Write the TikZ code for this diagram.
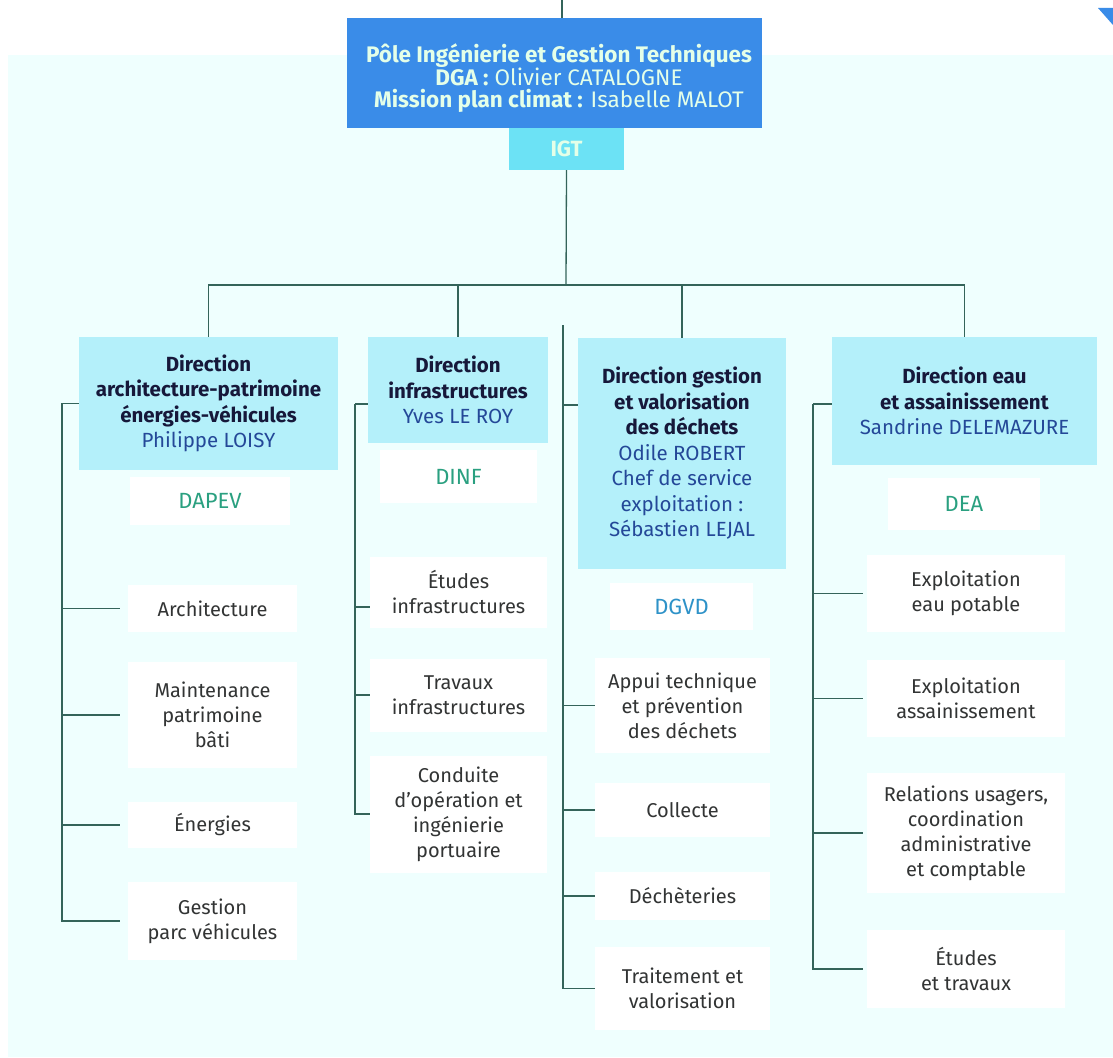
\documentclass[tikz,border=0pt]{standalone}
\usepackage{fontspec}
\setmainfont{Fira Sans}
\usetikzlibrary{positioning}
\definecolor{panel}{RGB}{239,255,254}
\definecolor{headblue}{RGB}{58,140,232}
\definecolor{headtext}{RGB}{228,255,232}
\definecolor{igtfill}{RGB}{108,226,245}
\definecolor{dirfill}{RGB}{180,240,250}
\definecolor{titlecol}{RGB}{22,24,58}
\definecolor{namecol}{RGB}{36,72,152}
\definecolor{codecol}{RGB}{42,160,128}
\definecolor{codeblue}{RGB}{46,146,200}
\definecolor{subtext}{RGB}{50,52,52}
\definecolor{linecol}{RGB}{52,100,90}
\tikzset{
  dirbox/.style={fill=dirfill, draw=none, align=center, inner sep=0pt, text=titlecol, font=\fontsize{20.5}{25.5}\selectfont},
  subbox/.style={fill=white, draw=none, align=center, inner sep=0pt, text=subtext, font=\fontsize{20}{25}\selectfont},
  codebox/.style={fill=white, draw=none, align=center, inner sep=0pt, text=codecol, font=\fontsize{22}{24}\selectfont},
  conn/.style={draw=linecol, line width=1.3pt},
}
\begin{document}
\begin{tikzpicture}[x=1pt,y=-1pt]
\fill[white] (0,0) rectangle (1113,1057);
\useasboundingbox (0,0) rectangle (1113,1057);
\fill[panel] (8,55) rectangle (1113,1057);
\fill[headblue] (1098,8) -- (1113,8) -- (1113,25) -- cycle;

% header
\node[fill=headblue, minimum width=415pt, minimum height=110pt, inner sep=0pt] (pole) at (554.5,73) {};
\node[align=center, text=headtext, font=\fontsize{22.5}{21.8}\selectfont] (poletxt) at (559,78)
  {\textbf{Pôle Ingénierie et Gestion Techniques}\\ \textbf{DGA :} Olivier CATALOGNE\\ \textbf{Mission plan climat :} Isabelle MALOT};
\node[fill=igtfill, minimum width=115pt, minimum height=42pt, inner sep=0pt, text=headtext, font=\fontsize{22}{22}\selectfont\bfseries] (igt) at (566.5,149) {IGT};
\coordinate (topin) at (562,0);

% directions
\node[dirbox, minimum width=259pt, minimum height=133pt] (dapev) at (208.5,403.5)
  {\textbf{Direction}\\ \textbf{architecture-patrimoine}\\ \textbf{énergies-véhicules}\\ \textcolor{namecol}{Philippe LOISY}};
\node[dirbox, minimum width=180pt, minimum height=106pt] (infra) at (458,390)
  {\textbf{Direction}\\ \textbf{infrastructures}\\ \textcolor{namecol}{Yves LE ROY}};
\node[dirbox, minimum width=208pt, minimum height=231pt] (gvd) at (682,453.5)
  {\textbf{Direction gestion}\\ \textbf{et valorisation}\\ \textbf{des déchets}\\ \textcolor{namecol}{Odile ROBERT}\\ \textcolor{namecol}{Chef de service}\\ \textcolor{namecol}{exploitation :}\\ \textcolor{namecol}{Sébastien LEJAL}};
\node[dirbox, minimum width=265pt, minimum height=128pt] (dea) at (964.5,401)
  {\textbf{Direction eau}\\ \textbf{et assainissement}\\ \textcolor{namecol}{Sandrine DELEMAZURE}};

% codes
\node[codebox, minimum width=160pt, minimum height=48pt] (cdapev) at (210,501) {DAPEV};
\node[codebox, minimum width=157pt, minimum height=53pt] (cdinf) at (458.5,476.5) {DINF};
\node[codebox, text=codeblue, minimum width=143pt, minimum height=47pt] (cdgvd) at (681.5,606.5) {DGVD};
\node[codebox, minimum width=152pt, minimum height=52pt] (cdea) at (964,504) {DEA};

% column 1
\node[subbox, minimum width=169pt, minimum height=47pt] (arch) at (212.5,608.5) {Architecture};
\node[subbox, minimum width=169pt, minimum height=106pt] (maint) at (212.5,715) {Maintenance\\ patrimoine\\ bâti};
\node[subbox, minimum width=169pt, minimum height=46pt] (energ) at (212.5,825) {Énergies};
\node[subbox, minimum width=169pt, minimum height=78pt] (gest) at (212.5,921) {Gestion\\ parc véhicules};

% column 2
\node[subbox, minimum width=177pt, minimum height=71pt] (etinf) at (458.5,592.5) {Études\\ infrastructures};
\node[subbox, minimum width=177pt, minimum height=73pt] (trinf) at (458.5,695) {Travaux\\ infrastructures};
\node[subbox, minimum width=177pt, minimum height=117pt] (cond) at (458.5,814) {Conduite\\ d'opération et\\ ingénierie\\ portuaire};

% column 3
\node[subbox, minimum width=175pt, minimum height=95pt] (appui) at (682.5,705.5) {Appui technique\\ et prévention\\ des déchets};
\node[subbox, minimum width=175pt, minimum height=54pt] (coll) at (682.5,810) {Collecte};
\node[subbox, minimum width=175pt, minimum height=48pt] (dech) at (682.5,896) {Déchèteries};
\node[subbox, minimum width=175pt, minimum height=83pt] (trait) at (682.5,988.5) {Traitement et\\ valorisation};

% column 4
\node[subbox, minimum width=198pt, minimum height=77pt] (eaupot) at (966,593.5) {Exploitation\\ eau potable};
\node[subbox, minimum width=198pt, minimum height=77pt] (assain) at (966,698.5) {Exploitation\\ assainissement};
\node[subbox, minimum width=198pt, minimum height=120pt] (relat) at (966,833) {Relations usagers,\\ coordination\\ administrative\\ et comptable};
\node[subbox, minimum width=198pt, minimum height=78pt] (ettrav) at (966,969) {Études\\ et travaux};

% connectors top
\coordinate (bus) at (566,285);
\draw[conn] (topin) -- (topin |- pole.north);
\draw[conn] (igt.south) -- (bus);
\draw[conn] (dapev.north) -- (dapev.north |- bus) -- (dea.north |- bus) -- (dea.north);
\draw[conn] (infra.north) -- (infra.north |- bus);
\draw[conn] (gvd.north) -- (gvd.north |- bus);

% column 1 connectors
\coordinate (c1) at (62,403.5);
\draw[conn] (dapev.west) -- (c1) |- ([xshift=-8pt]gest.west);
\foreach \n in {arch,maint,energ}{\draw[conn, shorten >=8pt] (c1 |- \n.west) -- (\n.west);}

% column 2 connectors
\coordinate (c2) at (355,404);
\draw[conn] (c2) -- (c2 -| infra.west);
\draw[conn] (c2) |- (cond.west);
\draw[conn] (c2 |- 0,607) -- (etinf.west |- 0,607);
\draw[conn] (c2 |- trinf.west) -- (trinf.west);

% column 3 connectors
\coordinate (c3) at (563,325);
\coordinate (c3j) at (563,405);
\draw[conn] (c3) |- (trait.west);
\draw[conn] (c3j) -- (c3j -| gvd.west);
\foreach \n in {appui,coll,dech}{\draw[conn] (c3 |- \n.west) -- (\n.west);}

% column 4 connectors
\coordinate (c4) at (813,404);
\draw[conn] (c4) -- (c4 -| dea.west);
\draw[conn] (c4) |- ([xshift=-4pt]ettrav.west);
\foreach \n in {eaupot,assain,relat}{\draw[conn, shorten >=4pt] (c4 |- \n.west) -- (\n.west);}
\end{tikzpicture}
\end{document}
